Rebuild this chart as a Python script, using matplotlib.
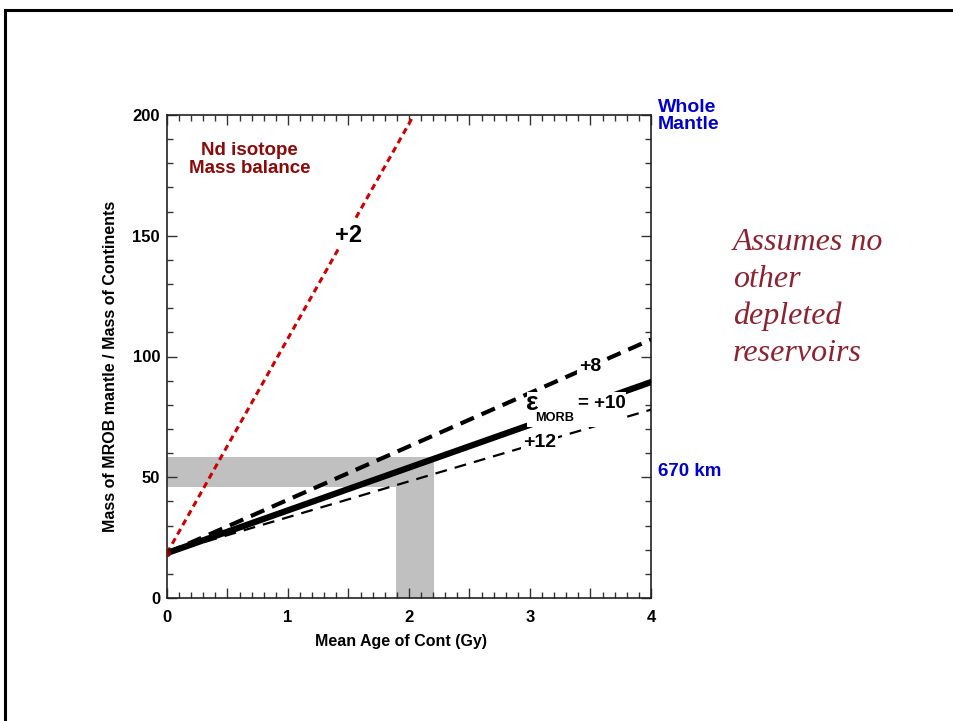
import matplotlib
matplotlib.use("Agg")
import matplotlib.pyplot as plt
from matplotlib.ticker import MultipleLocator, FuncFormatter
from matplotlib.lines import Line2D
from matplotlib.patches import Rectangle

plt.rcParams['font.family'] = ['Liberation Sans', 'DejaVu Sans']
plt.rcParams['font.weight'] = 'bold'
plt.rcParams['lines.scale_dashes'] = False

# ---- data ----
age_red = [0.0, 2.04]          # eps = +2 (ends at top of axes)
mass_red = [18.6, 200.0]
age_eps = [0.0, 4.0]
mass_eps8 = [18.6, 107.0]
mass_eps10 = [18.6, 89.4]
mass_eps12 = [18.6, 78.0]

band_h_x = [0.0, 2.21]
band_h_y = [46.0, 58.4]
band_v_x = [1.89, 2.21]
band_v_y = [0.0, 58.4]

x_ticks = [0, 1, 2, 3, 4]
y_ticks = [0, 50, 100, 150, 200]

fig = plt.figure(figsize=(9.54, 7.21), dpi=100)
ax = fig.add_axes([167/954, 1-598/721, (651-167)/954, (598-115)/721])

gray = '#c0c0c0'
ax.fill_between(band_h_x, band_h_y[0], band_h_y[1], color=gray, lw=0, zorder=1)
ax.fill_betweenx(band_v_y, band_v_x[0], band_v_x[1], color=gray, lw=0, zorder=1)

ax.plot(age_red, mass_red, color='#cc0000', lw=2.2, dashes=(4.5, 3.2), zorder=3)
ax.plot(age_eps, mass_eps8, color='black', lw=3.0, dashes=(10.5, 6.0), zorder=3)
ax.plot(age_eps, mass_eps10, color='black', lw=4.5, zorder=3)
ax.plot(age_eps, mass_eps12, color='black', lw=1.6, dashes=(8.6, 5.8), zorder=3)
ax.plot([0], [18.6], 'o', color='#8b0000', ms=4, zorder=4)

ax.set_xlim(0, 4)
ax.set_ylim(0, 200)

ax.xaxis.set_major_locator(MultipleLocator(0.5))
ax.xaxis.set_minor_locator(MultipleLocator(0.1))
ax.xaxis.set_major_formatter(FuncFormatter(lambda v, p: f"{int(round(v))}" if abs(v - round(v)) < 1e-6 else ""))
ax.yaxis.set_major_locator(MultipleLocator(50))
ax.yaxis.set_minor_locator(MultipleLocator(10))
ax.tick_params(which='both', direction='in', top=True, right=True, width=1.0, color='#333333')
ax.tick_params(which='major', length=7, labelsize=12)
ax.tick_params(which='minor', length=4)
ax.tick_params(axis='x', which='major', pad=9)
ax.tick_params(axis='y', which='major', pad=5)
for lab in ax.get_xticklabels() + ax.get_yticklabels():
    lab.set_fontweight('bold')
for sp in ax.spines.values():
    sp.set_linewidth(1.2)
    sp.set_color('#222222')

ax.set_xlabel('Mean Age of Cont (Gy)', fontsize=11.5, fontweight='bold')
ax.set_ylabel('Mass of MROB mantle / Mass of Continents', fontsize=11.5, fontweight='bold')
ax.xaxis.set_label_coords((401-167)/484, (598-634)/483)
ax.yaxis.set_label_coords((118-167)/484, (598-366)/483)

bb = dict(facecolor='white', edgecolor='none', pad=1.5)
ax.text(1.50, 150.3, '+2', fontsize=17, fontweight='bold', ha='center', va='center', bbox=bb, zorder=5)
ax.text(3.50, 96.0, '+8', fontsize=14, fontweight='bold', ha='center', va='center', bbox=bb, zorder=5)
# white background behind the epsilon_MORB = +10 label
ax.add_patch(Rectangle((2.975, 70.8), 0.82, 14.6, facecolor='white', edgecolor='none', zorder=4.5))
ax.text(2.965, 80.6, 'ε', fontsize=19, fontweight='bold', ha='left', va='center', zorder=5)
ax.text(3.04, 74.6, 'MORB', fontsize=9.2, fontweight='bold', ha='left', va='center', zorder=5)
ax.text(3.395, 80.7, '= +10', fontsize=13.5, fontweight='bold', ha='left', va='center', zorder=5)
ax.text(3.08, 64.2, '+12', fontsize=14, fontweight='bold', ha='center', va='center', bbox=bb, zorder=5)
ax.text(0.68, 181.5, 'Nd isotope\nMass balance', fontsize=13.5, fontweight='bold', ha='center', va='center',
        color='#8b0a0a', linespacing=1.05)

fig.text(658/954, 1-116/721, 'Whole\nMantle', fontsize=14, fontweight='bold', color='#0000cc',
         ha='left', va='center', linespacing=1.05)
fig.text(658/954, 1-471/721, '670 km', fontsize=13.5, fontweight='bold', color='#0000cc',
         ha='left', va='center')
fig.text(733/954, 1-298/721, 'Assumes no\nother\ndepleted\nreservoirs', fontsize=23,
         family=['Liberation Serif'], style='italic', fontweight='normal', color='#8b2332',
         ha='left', va='center', linespacing=1.36)

# slide frame
fig.add_artist(Line2D([5/954, 1.0], [1-10/721, 1-10/721], color='black', lw=2.2, transform=fig.transFigure))
fig.add_artist(Line2D([5/954, 5/954], [1-10/721, 0.0], color='black', lw=2.2, transform=fig.transFigure))

fig.savefig('out.png', dpi=100)
